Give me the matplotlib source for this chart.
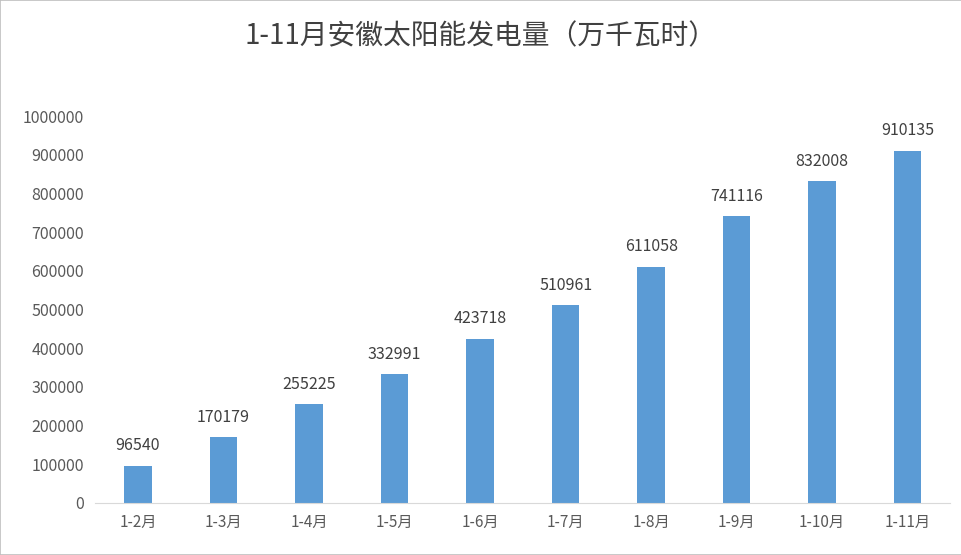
import matplotlib
matplotlib.use("Agg")
import matplotlib.pyplot as plt
from matplotlib.patches import Rectangle

plt.rcParams['font.family'] = ['Noto Sans CJK SC', 'DejaVu Sans']

categories = ["1-2月", "1-3月", "1-4月", "1-5月", "1-6月", "1-7月", "1-8月", "1-9月", "1-10月", "1-11月"]
values = [96540, 170179, 255225, 332991, 423718, 510961, 611058, 741116, 832008, 910135]
yticks = list(range(0, 1000001, 100000))

fig = plt.figure(figsize=(9.62, 5.55), dpi=100)
fig.patches.append(Rectangle((0, 0), 1, 1, transform=fig.transFigure, fill=False,
                             edgecolor="#bfbfbf", linewidth=1.2))
ax = fig.add_axes([0.099, 0.0937, 0.889, 0.697])
x = range(len(categories))
ax.bar(x, values, width=0.32, color="#5B9BD5")
for i, v in zip(x, values):
    ax.text(i, v + 30000, str(v), ha="center", va="bottom", fontsize=11.5, color="#404040")
ax.set_xlim(-0.5, len(categories) - 0.5)
ax.set_ylim(0, 1000000)
ax.set_yticks(yticks)
ax.set_yticklabels([str(t) for t in yticks], fontsize=11.5, color="#595959")
ax.set_xticks(list(x))
ax.set_xticklabels(categories, fontsize=11, color="#595959")
for s in ["top", "right", "left"]:
    ax.spines[s].set_visible(False)
ax.spines["bottom"].set_color("#d9d9d9")
ax.tick_params(axis="both", length=0, pad=8)
fig.text(0.5, 0.935, "1-11月安徽太阳能发电量（万千瓦时）", ha="center", va="center",
         fontsize=20, color="#404040")
fig.savefig("out.png", dpi=100)
